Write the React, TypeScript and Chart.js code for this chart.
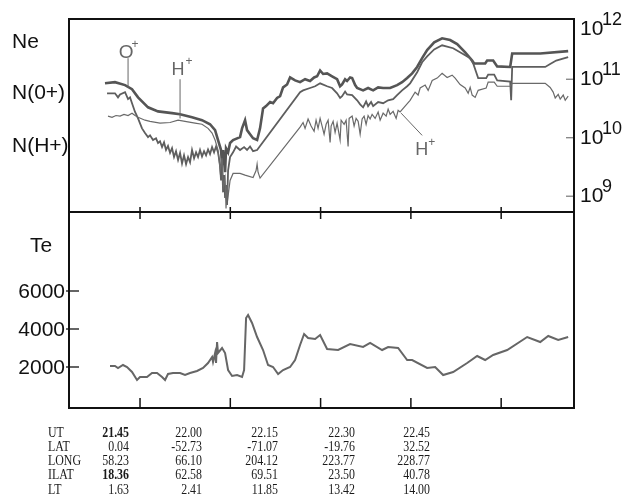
import React, { useEffect, useRef } from "react";
import { Chart, registerables } from "chart.js";

Chart.register(...registerables);

// Time axis: minutes after 21:45 UT
const utTickMinutes = [0, 15, 30, 45, 60];

// log10 of density (cm^-3 scaled as in original), pairs [minutes, log10 N]
const neSeries = [[-5.82,10.93],[-4.16,10.95],[-2.49,10.90],[-1.33,10.83],[-0.33,10.69],[1.33,10.52],[2.99,10.45],[5.32,10.42],[6.65,10.40],[8.64,10.35],[10.30,10.30],[11.63,10.23],[12.47,10.13],[12.96,9.96],[13.46,9.79],[13.63,9.53],[13.80,9.79],[14.13,9.41],[14.29,9.82],[14.63,9.75],[14.96,9.91],[15.46,9.96],[16.62,10.01],[16.95,10.16],[17.45,10.30],[17.78,10.13],[18.28,10.06],[18.78,9.99],[19.45,9.96],[19.94,10.16],[20.44,10.50],[20.94,10.54],[21.61,10.61],[22.10,10.59],[22.77,10.68],[23.27,10.71],[23.77,10.86],[24.43,10.91],[24.93,11.03],[25.76,10.98],[26.59,10.95],[27.42,11.00],[28.25,10.97],[28.92,11.03],[29.42,11.05],[29.92,11.15],[30.42,11.09],[31.08,11.10],[31.91,11.05],[32.74,11.00],[33.24,10.88],[33.57,10.91],[34.07,11.00],[34.40,10.97],[34.90,11.03],[35.24,11.02],[35.74,10.90],[36.07,10.85],[37.06,10.81],[37.89,10.85],[38.73,10.81],[39.56,10.86],[40.39,10.85],[41.55,10.85],[42.71,10.90],[43.54,10.95],[44.38,11.02],[45.21,11.10],[46.04,11.21],[46.87,11.36],[47.70,11.50],[48.87,11.63],[50.19,11.70],[51.52,11.67],[52.69,11.60],[54.02,11.46],[55.18,11.32],[55.51,11.27],[57.34,11.27],[57.67,11.32],[58.67,11.32],[59.34,11.22],[61.50,11.21],[61.83,11.44],[66.49,11.44],[71.13,11.48]];

const oPlusSeries = [[-5.48,10.76],[-4.16,10.76],[-3.66,10.69],[-3.32,10.74],[-2.49,10.78],[-1.99,10.66],[-1.66,10.69],[-1.33,10.59],[-0.83,10.44],[-0.33,10.33],[0.33,10.16],[0.83,10.08],[1.33,10.01],[1.66,10.04],[2.16,9.96],[2.66,9.99],[2.99,9.91],[3.32,9.94],[3.66,9.84],[3.99,9.92],[4.32,9.79],[4.65,9.86],[4.99,9.74],[5.32,9.82],[5.65,9.67],[5.98,9.77],[6.32,9.62],[6.65,9.74],[6.98,9.56],[7.31,9.70],[7.65,9.55],[7.98,9.67],[8.31,9.58],[8.64,9.79],[8.98,9.65],[9.31,9.75],[9.64,9.67],[9.97,9.79],[10.30,9.68],[10.64,9.77],[10.97,9.70],[11.30,9.80],[11.63,9.72],[11.97,9.84],[12.30,9.75],[12.63,9.85],[12.96,9.75],[13.30,9.53],[13.46,9.27],[13.63,9.62],[13.80,9.07],[13.96,9.36],[14.13,8.97],[14.29,9.19],[14.46,8.85],[14.63,9.44],[14.96,9.67],[15.46,9.75],[15.96,9.85],[16.62,9.79],[17.29,9.84],[17.78,9.79],[18.28,9.85],[18.78,9.77],[19.45,9.79],[26.59,10.78],[27.09,10.81],[28.25,10.85],[29.09,10.88],[29.92,10.93],[31.08,10.88],[31.91,10.85],[32.74,10.76],[33.24,10.68],[33.57,10.71],[34.07,10.79],[34.40,10.74],[35.24,10.73],[36.07,10.64],[36.57,10.57],[37.06,10.52],[37.56,10.62],[37.89,10.54],[38.39,10.61],[38.73,10.54],[39.56,10.61],[40.39,10.59],[41.22,10.64],[42.05,10.66],[42.71,10.73],[43.54,10.81],[44.38,10.88],[44.87,10.93],[46.04,11.12],[46.87,11.29],[47.70,11.39],[48.87,11.51],[50.19,11.58],[52.02,11.53],[53.52,11.44],[54.85,11.36],[55.35,11.27],[55.85,11.12],[56.18,11.02],[57.51,11.02],[57.84,11.08],[58.84,11.08],[59.34,10.98],[61.50,10.96],[61.66,10.64],[61.83,11.21],[67.32,11.21],[68.14,11.26],[69.14,11.32],[71.13,11.38]];

const hPlusSeries = [[-5.32,10.37],[-4.65,10.35],[-3.99,10.38],[-3.32,10.37],[-2.66,10.40],[-1.99,10.38],[-1.33,10.42],[-0.83,10.38],[-0.33,10.35],[0.83,10.30],[1.66,10.28],[3.32,10.25],[4.99,10.26],[6.32,10.30],[7.48,10.28],[9.14,10.25],[10.30,10.23],[11.30,10.16],[11.97,10.08],[12.47,9.96],[12.96,9.79],[13.30,9.44],[13.63,9.65],[13.80,9.14],[14.13,9.31],[14.29,8.79],[14.46,9.19],[14.63,9.00],[14.96,9.27],[15.46,9.39],[16.62,9.39],[17.45,9.36],[18.78,9.32],[19.28,9.44],[19.45,9.55],[19.61,9.41],[19.94,9.31],[26.59,10.18],[27.09,10.26],[27.42,10.16],[27.92,10.32],[28.42,10.20],[28.92,10.11],[29.25,10.30],[29.58,10.16],[29.92,10.33],[30.25,10.20],[30.58,10.06],[30.92,10.23],[31.25,10.30],[31.58,9.92],[31.75,10.20],[32.08,10.28],[32.41,10.09],[32.74,10.25],[33.24,9.96],[33.41,10.30],[33.91,10.23],[34.24,10.30],[34.57,9.85],[34.74,10.33],[35.24,10.37],[35.57,10.20],[35.90,10.33],[36.24,10.28],[36.57,10.06],[36.90,10.32],[37.23,10.37],[37.56,10.23],[37.89,10.38],[38.23,10.32],[38.56,10.40],[39.06,10.33],[39.56,10.44],[39.89,10.30],[40.39,10.42],[40.89,10.37],[41.22,10.49],[41.55,10.40],[42.05,10.45],[42.55,10.33],[42.88,10.47],[43.21,10.44],[44.04,10.54],[44.87,10.64],[45.70,10.78],[46.20,10.73],[46.54,10.85],[47.37,10.90],[47.87,10.81],[48.54,10.98],[49.37,11.02],[50.19,11.10],[51.02,11.03],[51.85,11.07],[52.35,11.02],[53.18,10.91],[54.02,10.85],[54.52,10.76],[54.85,10.86],[55.18,10.73],[55.68,10.69],[56.18,10.81],[57.51,10.85],[57.84,10.95],[58.84,10.95],[59.34,10.88],[61.50,10.88],[61.83,10.93],[67.32,10.93],[68.14,10.86],[68.64,10.78],[68.98,10.68],[69.48,10.74],[69.81,10.66],[70.31,10.73],[70.64,10.64],[71.13,10.71]];

// Electron temperature (K), pairs [minutes, Te]
const teSeries = [[-4.99,2053],[-4.16,2053],[-3.66,1947],[-2.83,2105],[-2.16,2000],[-1.33,1737],[-0.50,1316],[0,1474],[1.16,1474],[1.99,1684],[2.83,1684],[3.66,1474],[4.16,1316],[4.65,1632],[5.48,1684],[6.65,1684],[7.48,1579],[8.31,1684],[9.47,1789],[10.47,1947],[11.30,2211],[11.97,2526],[12.13,2263],[12.47,2737],[12.63,2211],[12.80,3316],[12.96,2737],[13.63,3000],[14.13,2737],[14.63,1842],[15.29,1526],[16.12,1579],[16.95,1474],[17.29,1842],[17.62,4579],[17.95,4737],[18.61,4316],[19.45,3579],[20.44,2895],[21.27,2105],[22.10,2000],[22.94,1632],[23.77,1842],[24.93,2000],[25.76,2368],[26.59,3158],[27.26,3737],[27.92,3526],[29.09,3474],[29.92,3684],[31.08,2947],[32.91,2895],[34.90,3211],[37.06,3053],[38.23,3263],[40.22,2895],[41.22,3053],[42.88,3000],[44.38,2368],[45.21,2368],[47.70,1947],[49.03,2000],[50.36,1579],[52.02,1737],[54.35,2211],[56.01,2579],[57.34,2368],[58.67,2632],[61.00,2895],[64.32,3579],[66.49,3316],[67.82,3632],[69.48,3421],[71.13,3579]];

const neDecades = [9, 10, 11, 12];
const teTicks = [2000, 4000, 6000];

const rowLabels = ["UT", "LAT", "LONG", "ILAT", "LT"];
const utRow = ["21.45", "22.00", "22.15", "22.30", "22.45"];
const latRow = ["0.04", "-52.73", "-71.07", "-19.76", "32.52"];
const longRow = ["58.23", "66.10", "204.12", "223.77", "228.77"];
const ilatRow = ["18.36", "62.58", "69.51", "23.50", "40.78"];
const ltRow = ["1.63", "2.41", "11.85", "13.42", "14.00"];

const SANS = '"Liberation Sans", Arial, sans-serif';
const SERIF = '"Liberation Serif", "Times New Roman", serif';

const toXY = (arr: number[][]) => arr.map(([x, y]) => ({ x, y }));

function line(ctx: any, x1: number, y1: number, x2: number, y2: number) {
  ctx.beginPath();
  ctx.moveTo(x1, y1);
  ctx.lineTo(x2, y2);
  ctx.stroke();
}

const topDecor = {
  id: "topDecor",
  afterDraw(chart: any) {
    const { ctx, chartArea: a } = chart;
    const x = chart.scales.x;
    const y = chart.scales.y;
    ctx.save();
    ctx.strokeStyle = "#111";
    ctx.lineWidth = 2;
    ctx.strokeRect(a.left, a.top, a.right - a.left, a.bottom - a.top);
    ctx.lineWidth = 1.5;
    utTickMinutes.forEach((t) => {
      const px = x.getPixelForValue(t);
      line(ctx, px, a.bottom - 5, px, a.bottom + 7);
    });
    // right decade labels
    ctx.fillStyle = "#111";
    ctx.textAlign = "left";
    ctx.textBaseline = "alphabetic";
    neDecades.forEach((d) => {
      const py = y.getPixelForValue(d);
      if (d < 12) {
        ctx.strokeStyle = "#777";
        ctx.lineWidth = 1.2;
        line(ctx, a.right - 8, py, a.right - 1, py);
      }
      const base = Math.max(py + 6, a.top + 16);
      ctx.font = "21px " + SANS;
      ctx.fillText("10", a.right + 6, base);
      ctx.font = "18px " + SANS;
      ctx.fillText(String(d), a.right + 28, base - 10);
    });
    // left labels
    ctx.font = "21px " + SANS;
    ctx.fillText("Ne", 12, 48);
    ctx.fillText("N(0+)", 12, 99);
    ctx.fillText("N(H+)", 12, 152);
    // annotations
    ctx.strokeStyle = "#666";
    ctx.fillStyle = "#666";
    ctx.lineWidth = 1;
    // O+
    let px = x.getPixelForValue(-1.99);
    let pTop = y.getPixelForValue(11.36);
    let pBot = y.getPixelForValue(10.85);
    line(ctx, px, pTop, px, pBot);
    ctx.font = "19px " + SANS;
    ctx.textAlign = "center";
    ctx.fillText("O", px - 2, pTop);
    ctx.font = "12px " + SANS;
    ctx.fillText("+", px + 7, pTop - 10);
    // H+ left
    px = x.getPixelForValue(6.65);
    pTop = y.getPixelForValue(11.0);
    pBot = y.getPixelForValue(10.33);
    line(ctx, px, pTop, px, pBot);
    ctx.font = "18px " + SANS;
    ctx.fillText("H", px - 2, pTop - 4);
    ctx.font = "12px " + SANS;
    ctx.fillText("+", px + 9, pTop - 14);
    // H+ right
    const x1 = x.getPixelForValue(43.38);
    const y1 = y.getPixelForValue(10.42);
    const x2 = x.getPixelForValue(46.87);
    const y2 = y.getPixelForValue(10.04);
    line(ctx, x1, y1, x2, y2);
    ctx.font = "18px " + SANS;
    ctx.textAlign = "left";
    const hx = x.getPixelForValue(45.71);
    const hy = y.getPixelForValue(9.70);
    ctx.fillText("H", hx, hy);
    ctx.font = "12px " + SANS;
    ctx.fillText("+", hx + 13, hy - 9);
    ctx.restore();
  },
};

const bottomDecor = {
  id: "bottomDecor",
  afterDraw(chart: any) {
    const { ctx, chartArea: a } = chart;
    const x = chart.scales.x;
    const y = chart.scales.y;
    ctx.save();
    ctx.strokeStyle = "#111";
    ctx.lineWidth = 2;
    ctx.strokeRect(a.left, a.top, a.right - a.left, a.bottom - a.top);
    ctx.lineWidth = 1.5;
    utTickMinutes.forEach((t) => {
      const px = x.getPixelForValue(t);
      line(ctx, px, a.bottom - 10, px, a.bottom);
    });
    ctx.fillStyle = "#111";
    ctx.font = "21px " + SANS;
    ctx.textAlign = "right";
    ctx.textBaseline = "middle";
    teTicks.forEach((v) => {
      const py = y.getPixelForValue(v);
      ctx.lineWidth = 1.3;
      line(ctx, a.left - 3, py, a.left + 10, py);
      ctx.fillText(String(v), a.left - 4, py + 1);
    });
    ctx.textAlign = "left";
    ctx.textBaseline = "alphabetic";
    ctx.fillText("Te", 30, 252);

    // table
    const rows = [utRow, latRow, longRow, ilatRow, ltRow];
    const colRight = [129, 202, 278, 355, 430];
    const baselines = [437, 451, 465, 479, 494];
    ctx.fillStyle = "#1a1a1a";
    rows.forEach((row, ri) => {
      const by = baselines[ri];
      ctx.save();
      ctx.translate(48, by);
      ctx.scale(0.85, 1);
      ctx.font = "14px " + SERIF;
      ctx.textAlign = "left";
      ctx.fillText(rowLabels[ri], 0, 0);
      ctx.restore();
      row.forEach((txt, ci) => {
        const bold = ci === 0 && (ri === 0 || ri === 3);
        ctx.save();
        ctx.translate(colRight[ci], by);
        ctx.scale(0.85, 1);
        ctx.font = (bold ? "bold " : "") + "14px " + SERIF;
        ctx.textAlign = "right";
        ctx.fillText(txt, 0, 0);
        ctx.restore();
      });
    });
    ctx.restore();
  },
};

const X_MIN = -11.8;
const X_MAX = 72.1;

export default function App() {
  const topRef = useRef<HTMLCanvasElement>(null);
  const botRef = useRef<HTMLCanvasElement>(null);

  useEffect(() => {
    const common = {
      animation: false,
      responsive: false,
      events: [],
      plugins: { legend: { display: false }, tooltip: { enabled: false } },
      elements: { point: { radius: 0 }, line: { tension: 0 } },
    };
    const top = new Chart(topRef.current as any, {
      type: "scatter",
      data: {
        datasets: [
          { data: toXY(hPlusSeries), showLine: true, borderColor: "#6a6a6a", borderWidth: 1.2, pointRadius: 0 },
          { data: toXY(oPlusSeries), showLine: true, borderColor: "#5e5e5e", borderWidth: 1.8, pointRadius: 0 },
          { data: toXY(neSeries), showLine: true, borderColor: "#555", borderWidth: 2.6, pointRadius: 0 },
        ],
      },
      options: {
        ...common,
        layout: { padding: { left: 69, top: 19, right: 51, bottom: 289 } },
        scales: {
          x: { type: "linear", min: X_MIN, max: X_MAX, display: false },
          y: { type: "linear", min: 8.73, max: 12.03, display: false },
        },
      } as any,
      plugins: [topDecor],
    });
    const bot = new Chart(botRef.current as any, {
      type: "scatter",
      data: {
        datasets: [
          { data: toXY(teSeries), showLine: true, borderColor: "#666", borderWidth: 2, pointRadius: 0 },
        ],
      },
      options: {
        ...common,
        layout: { padding: { left: 69, top: 212, right: 51, bottom: 93 } },
        scales: {
          x: { type: "linear", min: X_MIN, max: X_MAX, display: false },
          y: { type: "linear", min: -158, max: 10158, display: false },
        },
      } as any,
      plugins: [bottomDecor],
    });
    return () => {
      top.destroy();
      bot.destroy();
    };
  }, []);

  const cs: React.CSSProperties = { position: "absolute", left: 0, top: 0, width: 625, height: 501 };
  return (
    <div style={{ position: "fixed", left: 0, top: 0, width: 625, height: 501, background: "#fff" }}>
      <canvas ref={botRef} width={625} height={501} style={cs} />
      <canvas ref={topRef} width={625} height={501} style={cs} />
    </div>
  );
}
